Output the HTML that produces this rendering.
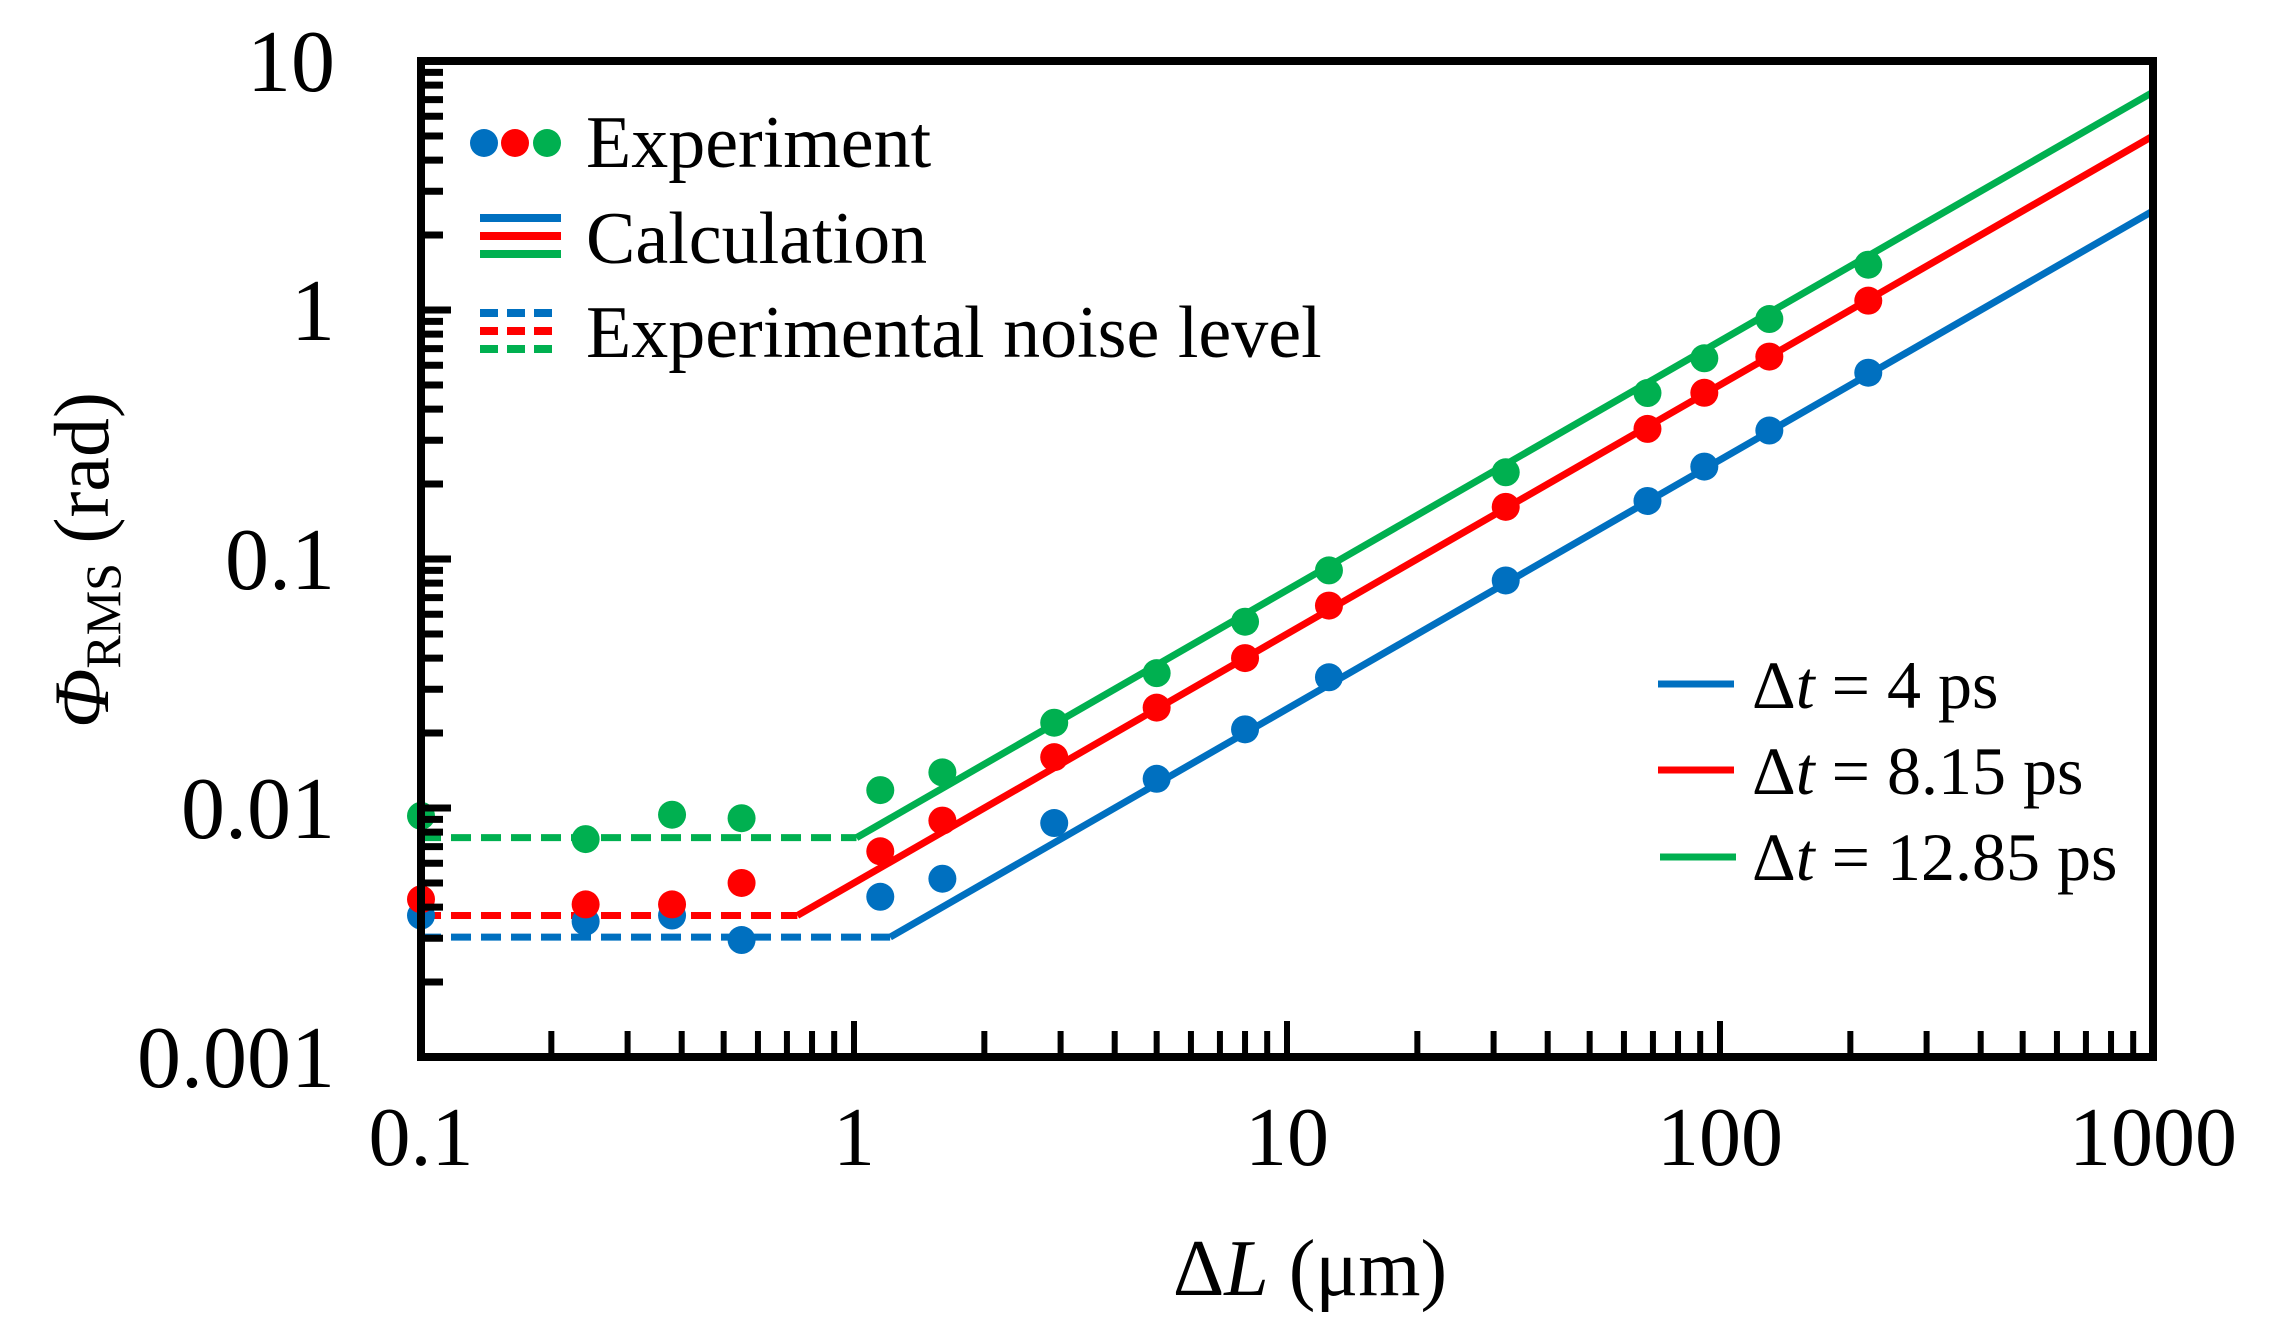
<!DOCTYPE html>
<html><head><meta charset="utf-8"><style>
html,body{margin:0;padding:0;background:#fff}
svg{display:block}
text{font-family:"Liberation Serif",serif;fill:#000}
</style></head><body>
<svg id="chart" width="2269" height="1338" viewBox="0 0 2269 1338" xmlns="http://www.w3.org/2000/svg">
<g id="plot"></g>
<g id="axes"></g>
<text transform="translate(108,560) rotate(-90)" text-anchor="middle" font-size="78"><tspan font-style="italic">Φ</tspan><tspan font-size="50" dy="12">RMS</tspan><tspan dy="-12"> (rad)</tspan></text>
<text x="1310" y="1295" text-anchor="middle" font-size="80">Δ<tspan font-style="italic">L</tspan> (μm)</text>
<g>
  <circle cx="484" cy="143" r="14" fill="#0070c0"/><circle cx="515" cy="143" r="14" fill="#ff0000"/><circle cx="547" cy="143" r="14" fill="#00b050"/>
  <text x="586" y="167" font-size="74">Experiment</text>
  <line x1="480" y1="218" x2="561" y2="218" stroke="#0070c0" stroke-width="8"/>
  <line x1="480" y1="236" x2="561" y2="236" stroke="#ff0000" stroke-width="8"/>
  <line x1="480" y1="254" x2="561" y2="254" stroke="#00b050" stroke-width="8"/>
  <text x="586" y="263" font-size="74">Calculation</text>
  <line x1="480" y1="313" x2="561" y2="313" stroke="#0070c0" stroke-width="8" stroke-dasharray="18,9"/>
  <line x1="480" y1="331" x2="561" y2="331" stroke="#ff0000" stroke-width="8" stroke-dasharray="18,9"/>
  <line x1="480" y1="349" x2="561" y2="349" stroke="#00b050" stroke-width="8" stroke-dasharray="18,9"/>
  <text x="586" y="357" font-size="74">Experimental noise level</text>
</g>
<g>
  <line x1="1658" y1="684" x2="1734" y2="684" stroke="#0070c0" stroke-width="7"/>
  <text x="1752" y="708" font-size="68">Δ<tspan font-style="italic">t</tspan> = 4 ps</text>
  <line x1="1658" y1="770" x2="1734" y2="770" stroke="#ff0000" stroke-width="7"/>
  <text x="1752" y="794" font-size="68">Δ<tspan font-style="italic">t</tspan> = 8.15 ps</text>
  <line x1="1660" y1="857" x2="1736" y2="857" stroke="#00b050" stroke-width="7"/>
  <text x="1752" y="880" font-size="68">Δ<tspan font-style="italic">t</tspan> = 12.85 ps</text>
</g>
</svg>
<script>
const xs = [0.1, 0.24, 0.38, 0.55, 1.15, 1.6, 2.9, 5, 8, 12.5, 32, 68, 92, 130, 220];
const blueVals = [0.0037, 0.0035, 0.0037, 0.00295, 0.0044, 0.0052, 0.0087, 0.0131, 0.0207, 0.0335, 0.082, 0.171, 0.235, 0.328, 0.56];
const redVals = [0.0043, 0.0041, 0.0041, 0.005, 0.0067, 0.0089, 0.016, 0.0253, 0.040, 0.065, 0.162, 0.333, 0.465, 0.65, 1.09];
const greenVals = [0.0093, 0.0075, 0.0094, 0.0091, 0.0118, 0.0139, 0.022, 0.0348, 0.056, 0.09, 0.223, 0.464, 0.64, 0.92, 1.52];
const calcSlopes = [0.0025, 0.005, 0.0075];
const noiseLevels = [0.00303, 0.0037, 0.0076];
const seriesNames = ['dt-4ps', 'dt-8-15ps', 'dt-12-85ps'];
const xTickLabels = ['0.1', '1', '10', '100', '1000'];
const yTickLabels = ['0.001', '0.01', '0.1', '1', '10'];

const colors = ['#0070c0', '#ff0000', '#00b050'];
const NS = 'http://www.w3.org/2000/svg';
const L = 421, R = 2153, T = 61, B = 1057;
const xDec = (R - L) / 4, yDec = (B - T) / 4;
const X = v => L + xDec * Math.log10(v / 0.1);
const Y = v => T + yDec * (1 - Math.log10(v));
function mk(tag, attrs, parent) {
  const e = document.createElementNS(NS, tag);
  for (const k in attrs) e.setAttribute(k, attrs[k]);
  parent.appendChild(e);
  return e;
}
const plot = document.getElementById('plot');
const axes = document.getElementById('axes');
const allVals = [blueVals, redVals, greenVals];
for (let s = 0; s < 3; s++) {
  const br = noiseLevels[s] / calcSlopes[s];
  const d = mk('line', {x1: X(0.1), y1: Y(noiseLevels[s]), x2: X(br), y2: Y(noiseLevels[s]), stroke: colors[s], 'stroke-width': 7, 'stroke-dasharray': '20,10'}, plot);
  
  
  const c = mk('line', {x1: X(br), y1: Y(noiseLevels[s]), x2: X(1000), y2: Y(calcSlopes[s] * 1000), stroke: colors[s], 'stroke-width': 7}, plot);
  
  
}
for (let s = 0; s < 3; s++) {
  for (let i = 0; i < xs.length; i++) {
    const p = mk('circle', {cx: X(xs[i]), cy: Y(allVals[s][i]), r: 14, fill: colors[s]}, plot);
    
    
  }
}
const fr = mk('rect', {x: L, y: T, width: R - L, height: B - T, fill: 'none', stroke: '#000', 'stroke-width': 8}, axes);


for (let d = 0; d < 4; d++) {
  for (let m = 1; m <= 10; m++) {
    const xv = 0.1 * Math.pow(10, d) * m;
    const yv = 0.001 * Math.pow(10, d) * m;
    const major = m === 1 || m === 10;
    const tx = mk('line', {x1: X(xv), y1: B, x2: X(xv), y2: B - (major ? 36 : 26), stroke: '#000', 'stroke-width': 6}, axes);
    
    
    const ty = mk('line', {x1: L, y1: Y(yv), x2: L + (major ? 30 : 22), y2: Y(yv), stroke: '#000', 'stroke-width': 7}, axes);
    
    
  }
}
for (let i = 0; i < xTickLabels.length; i++) {
  const t = mk('text', {x: X(0.1 * Math.pow(10, i)), y: 1165, 'text-anchor': 'middle', 'font-size': 84}, axes);
  t.textContent = xTickLabels[i];
  
  
}
for (let i = 0; i < yTickLabels.length; i++) {
  const t = mk('text', {x: 335, y: Y(0.001 * Math.pow(10, i)) + 30, 'text-anchor': 'end', 'font-size': 88}, axes);
  t.textContent = yTickLabels[i];
  
  
}
</script>
</body></html>
